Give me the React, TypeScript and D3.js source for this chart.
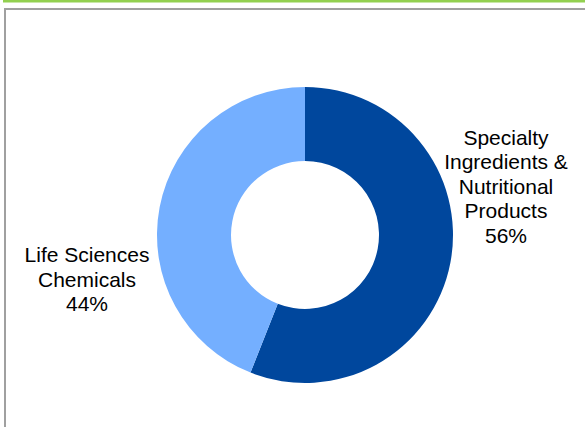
import React from "react";
import * as d3 from "d3";

const categories = ["Specialty Ingredients & Nutritional Products", "Life Sciences Chemicals"];
const values = [56, 44];
const labelLines = [
  ["Specialty", "Ingredients &", "Nutritional", "Products", "56%"],
  ["Life Sciences", "Chemicals", "44%"],
];
const colors = ["#00479D", "#74AFFF"];

const W = 585;
const H = 427;
const cx = 305;
const cy = 235;
const outerR = 148;
const innerR = 74;

// label block layout: [x center, first baseline]
const labelPos: [number, number][] = [
  [506, 144.5],
  [87, 262],
];
const lineH = 24.5;

export default function App() {
  const data = categories.map((c, i) => ({ c, v: values[i], i }));
  const pie = d3
    .pie<{ c: string; v: number; i: number }>()
    .value((d) => d.v)
    .sort(null)
    .startAngle(0)
    .endAngle(2 * Math.PI);
  const arcs = pie(data);
  const arc = d3
    .arc<d3.PieArcDatum<{ c: string; v: number; i: number }>>()
    .innerRadius(innerR)
    .outerRadius(outerR);

  return (
    <svg
      width={W}
      height={H}
      style={{ position: "absolute", left: 0, top: 0, background: "#fff" }}
      fontFamily="'Liberation Sans', Arial, sans-serif"
    >
      <rect x={0} y={0} width={W} height={H} fill="#ffffff" />
      <rect x={3} y={0} width={W - 3} height={2.5} fill="#92D050" />
      <rect x={5} y={9} width={W + 20} height={H + 20} fill="none" stroke="#A0A0A0" strokeWidth={2} />
      <g transform={`translate(${cx},${cy})`}>
        {arcs.map((a, i) => (
          <path key={i} d={arc(a) || ""} fill={colors[i]} />
        ))}
      </g>
      {labelLines.map((lines, i) => (
        <text key={i} textAnchor="middle" fontSize={21} fill="#000">
          {lines.map((l, j) => (
            <tspan key={j} x={labelPos[i][0]} y={labelPos[i][1] + j * lineH}>
              {l}
            </tspan>
          ))}
        </text>
      ))}
    </svg>
  );
}
